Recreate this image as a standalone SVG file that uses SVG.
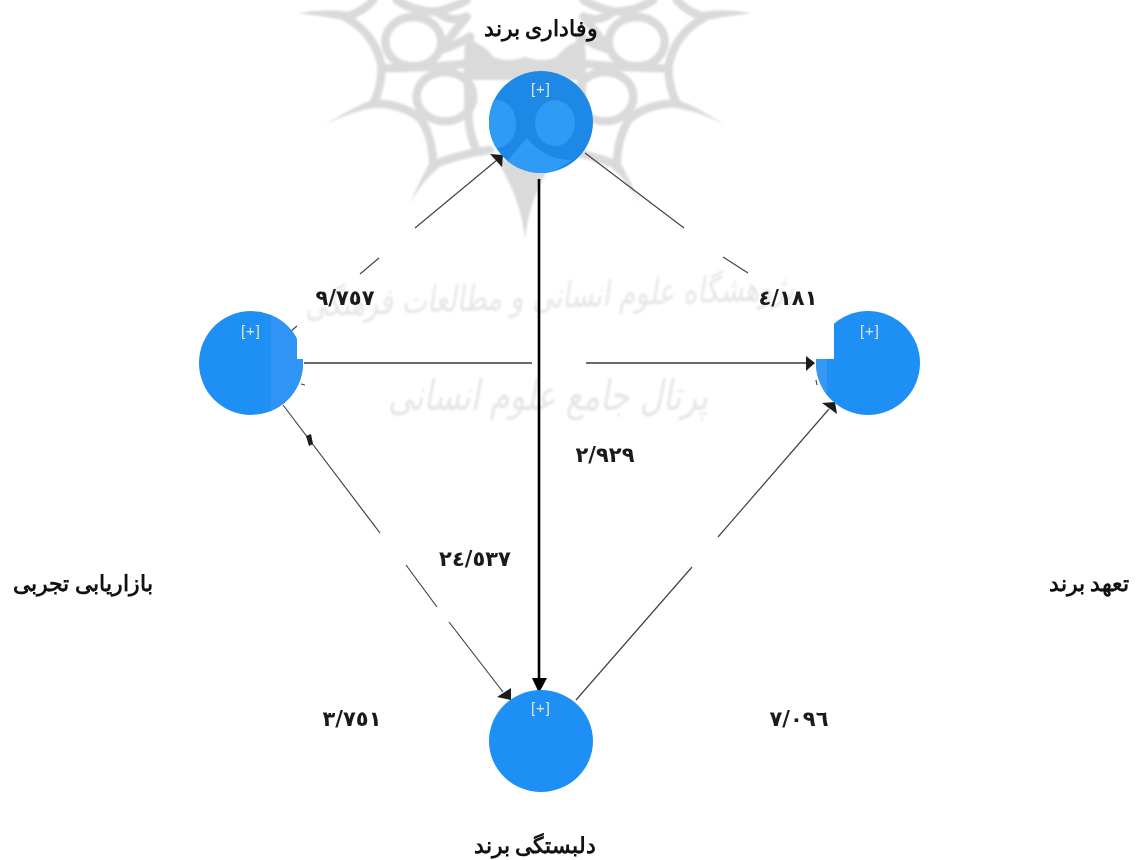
<svg xmlns="http://www.w3.org/2000/svg" width="1139" height="860" viewBox="0 0 1139 860">
<defs>
<style>
.t{font-family:"Liberation Serif","DejaVu Serif",serif;font-weight:700;fill:#111;text-anchor:middle}
.lab{font-size:22px}
.num{font-size:21px;font-family:"DejaVu Sans","Liberation Serif",sans-serif;font-weight:700;fill:#1a1a1a;text-anchor:middle}
.plus{font-family:"Liberation Sans",sans-serif;font-size:15px;letter-spacing:1px;fill:#dfe8cf;text-anchor:middle}
.wm{font-family:"DejaVu Sans",sans-serif;fill:#e6e6e6;text-anchor:middle;font-style:italic}
.c{fill:#1e90f5}
.ln{stroke:#444;stroke-width:1.2;fill:none}
.hz{stroke:#3a3a3a;stroke-width:1.6;fill:none}
.bk{stroke:#000;stroke-width:2.6;fill:none}
.ah{fill:#1c1c1c}
.em{fill:none;stroke:#dadada;stroke-width:25;stroke-linecap:round}
.es{fill:#dadada}
</style>
<filter id="b"><feGaussianBlur stdDeviation="0.8"/></filter>
<clipPath id="topclip"><ellipse cx="541" cy="122" rx="52" ry="51"/></clipPath>
<g id="half">
<ellipse class="em" cx="370" cy="125" rx="84" ry="74"/>
<ellipse class="em" cx="465" cy="290" rx="85" ry="74"/>
<path class="em" d="M170,55Q255,100 275,200Q275,260 250,310"/>
<path class="em" d="M250,310Q340,310 395,360Q430,420 430,500"/>
<path class="em" d="M430,495Q500,465 600,450"/>
<path class="em" d="M275,205Q400,205 540,190Q600,195 640,220"/>
<path class="em" d="M170,50Q220,35 250,0"/>
<path class="em" d="M320,0Q370,35 440,35Q500,20 530,0"/>
<path class="em" d="M440,35Q480,70 530,50"/>
<path class="em" d="M450,150Q490,100 530,50"/>
<path class="em" d="M450,150Q490,140 540,110"/>
<path class="em" d="M540,110Q530,200 535,290Q530,390 560,450"/>
<path class="es" d="M25,40Q100,25 170,35L190,65Q110,50 25,40Z"/>
<path class="es" d="M105,375Q190,320 250,298L265,322Q190,330 105,375Z"/>
<path class="es" d="M360,610Q390,540 418,490L445,505Q400,540 360,610Z"/>
<path class="es" d="M540,120Q590,140 610,170Q650,190 705,170V240H540Z"/>
<path class="es" d="M705,720Q695,600 620,480H705Z"/>
</g>
</defs>
<rect width="1139" height="860" fill="#fff"/>
<g id="watermark" filter="url(#b)">
<g transform="translate(290,0) scale(0.3333)"><use href="#half"/></g>
<g transform="translate(760,0) scale(-0.3333,0.3333)"><use href="#half"/></g>
<text class="wm" x="550" y="308" font-size="36" transform="rotate(-2 550 308)" textLength="490" lengthAdjust="spacingAndGlyphs">پژوهشگاه علوم انسانی و مطالعات فرهنگی</text>
<text class="wm" x="548" y="410" font-size="42" textLength="320" lengthAdjust="spacingAndGlyphs">پرتال جامع علوم انسانی</text>
</g>
<g id="connectors">
<path class="ln" d="M290,332L297,326M360,274L379,258M415,228L497,160"/>
<path class="ah" d="M490,154L503,155L502,167Z"/>
<path class="ln" d="M585,153L684,228M723,257L748,273"/>
<path class="hz" d="M304,363H532M586,363H808"/>
<path class="ah" d="M806,356L815,363L806,371Z"/>
<path class="ln" d="M283,405L380,533M406,565L437,607M449,622L503,692"/>
<path class="ah" d="M497,697L511,688L511,700Z"/>
<path class="ah" d="M306,436L311,434L313,444L309,446Z"/>
<path class="ln" d="M576,700L692,567M718,537L829,409"/>
<path class="ah" d="M822,403L835,402L837,414Z"/>
<path class="bk" d="M539,179V680"/>
<path fill="#000" d="M532,678H547L539,693Z"/>
<path class="ln" d="M301,384L305,385M816,380L817,385"/>
</g>
<g id="node-top">
<ellipse cx="541" cy="122" rx="52" ry="51" fill="#1e88e6"/>
<g clip-path="url(#topclip)" fill="#2f9bf5">
<ellipse cx="555" cy="123" rx="20" ry="23"/>
<ellipse cx="497" cy="124" rx="19" ry="24"/>
<path d="M527,138Q545,160 572,160L540,180L505,165Q515,150 527,138Z"/>
</g>
<text class="plus" x="541" y="94">[+]</text>
<text class="t lab" x="541" y="36">وفاداری برند</text>
</g>
<g id="node-left">
<circle class="c" cx="251" cy="363" r="52"/>
<path d="M271,315A52,52 0 0 1 271,411Z" fill="#2f94f6"/>
<rect x="297" y="310" width="10" height="49" fill="#fff"/>
<text class="plus" x="251" y="336">[+]</text>
<text class="t lab" x="83" y="591">بازاریابی تجربی</text>
</g>
<g id="node-right">
<circle class="c" cx="868" cy="363" r="52"/>
<path d="M827,395A52,52 0 0 1 827,331Z" fill="#3798f4"/>
<rect x="810" y="310" width="24" height="49" fill="#fff"/>
<text class="plus" x="870" y="336">[+]</text>
<text class="t lab" x="1089" y="591">تعهد برند</text>
</g>
<g id="node-bottom">
<ellipse class="c" cx="541" cy="741" rx="52" ry="51"/>
<text class="plus" x="541" y="713">[+]</text>
<text class="t lab" x="535" y="853">دلبستگی برند</text>
</g>
<g id="labels">
<text class="num" x="345" y="305">٩/٧٥٧</text>
<text class="num" x="788" y="305">٤/١٨١</text>
<text class="num" x="605" y="462">٢/٩٢٩</text>
<text class="num" x="475" y="566">٢٤/٥٣٧</text>
<text class="num" x="352" y="726">٣/٧٥١</text>
<text class="num" x="799" y="726">٧/٠٩٦</text>
</g>
</svg>
